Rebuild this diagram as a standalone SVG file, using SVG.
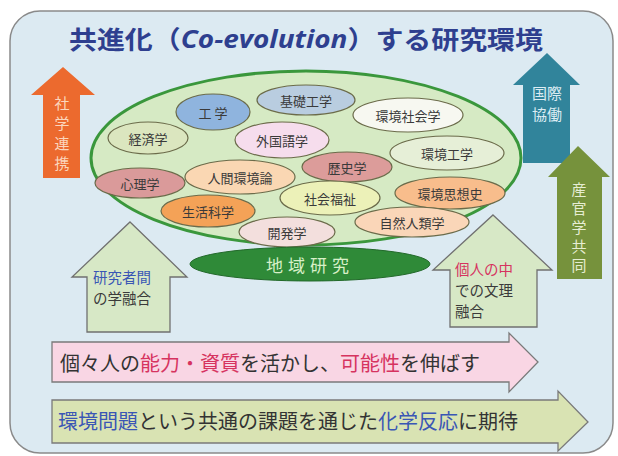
<svg xmlns="http://www.w3.org/2000/svg" width="618" height="456" viewBox="0 0 618 456">
<style>
text{font-family:"Noto Sans CJK JP","Noto Sans",sans-serif;}
.sub ellipse{stroke:#6b6b4a;stroke-width:1.2;}
.sub text{font-size:13px;fill:#3a3a3a;text-anchor:middle;dominant-baseline:central;}
.side{font-size:15px;text-anchor:middle;dominant-baseline:central;}
.up{fill:#d7e8c6;stroke:#707070;stroke-width:1.3;}
.lbl{font-size:14.5px;dominant-baseline:central;fill:#3a3a3a;}
.band{font-size:20px;dominant-baseline:central;fill:#333;}
.red{fill:#d6335f;}
.blue{fill:#3a56b5;}
</style>
<rect x="0" y="0" width="618" height="456" fill="#ffffff"/>
<rect x="10" y="11" width="603" height="442" rx="30" fill="#dceaf2" stroke="#8a8a8a" stroke-width="1.5"/>
<text x="306" y="38" text-anchor="middle" dominant-baseline="central" font-size="25" font-weight="bold" fill="#2e3f8f" textLength="474" lengthAdjust="spacingAndGlyphs">共進化（<tspan font-style="italic" font-family="'Open Sans','Noto Sans',sans-serif">Co-evolution</tspan>）する研究環境</text>

<g id="connectors">
<g id="arrow-shagaku">
<polygon points="63,67 95,95 80,95 80,178 43,178 43,95 31,95" fill="#ec6a2e"/>
<g class="side" fill="#fbd6bd">
<text x="62" y="102">社</text><text x="62" y="122">学</text><text x="62" y="142">連</text><text x="62" y="162">携</text>
</g>
</g>
<g id="arrow-kokusai">
<polygon points="547,53 580,85 570,85 570,163 523,163 523,85 513,85" fill="#31849b"/>
<g class="side" fill="#dcecf3">
<text x="547" y="92">国際</text><text x="547" y="113">協働</text>
</g>
</g>
<g id="arrow-sankan">
<polygon points="578,146 610,177 602,177 602,279 557,279 557,177 548,177" fill="#76923c"/>
<g class="side" fill="#e6edd3">
<text x="579" y="188">産</text><text x="579" y="207">官</text><text x="579" y="226">学</text><text x="579" y="245">共</text><text x="579" y="264">同</text>
</g>
</g>
<g id="arrow-kenkyusha">
<polygon class="up" points="130,222 187,277 170,277 170,332 87,332 87,277 72,277"/>
<text class="lbl" x="93" y="276"><tspan class="blue">研究者間</tspan></text>
<text class="lbl" x="93" y="297">の学融合</text>
</g>
<g id="arrow-kojin">
<polygon class="up" points="493,215 552,270 537,270 537,327 450,327 450,270 433,270"/>
<text class="lbl" x="455" y="268"><tspan class="red">個人の中</tspan></text>
<text class="lbl" x="455" y="289">での文理</text>
<text class="lbl" x="455" y="310">融合</text>
</g>
</g>

<g id="field">
<ellipse cx="306" cy="158" rx="215" ry="87" fill="#d6eac4" stroke="#3a973c" stroke-width="3"/>
</g>
<g class="sub">
<g id="n-kisokogaku"><ellipse cx="306" cy="100" rx="49" ry="15" fill="#b9cde0"/><text x="306" y="100">基礎工学</text></g>
<g id="n-kogaku"><ellipse cx="213" cy="112" rx="37" ry="18" fill="#8fb4de"/><text x="213" y="112">工 学</text></g>
<g id="n-kankyoshakai"><ellipse cx="408" cy="115" rx="55" ry="17" fill="#f7f8f1"/><text x="408" y="115">環境社会学</text></g>
<g id="n-keizai"><ellipse cx="148" cy="138" rx="40" ry="16" fill="#dbe6bf"/><text x="148" y="138">経済学</text></g>
<g id="n-gaikokugo"><ellipse cx="282" cy="140" rx="47" ry="18" fill="#f6dded"/><text x="282" y="140">外国語学</text></g>
<g id="n-kankyokogaku"><ellipse cx="447" cy="153" rx="57" ry="17" fill="#e6efd7"/><text x="447" y="153">環境工学</text></g>
<g id="n-rekishi"><ellipse cx="347" cy="167" rx="45" ry="15" fill="#dc9c9a"/><text x="347" y="167">歴史学</text></g>
<g id="n-shinri"><ellipse cx="140" cy="183" rx="45" ry="15" fill="#da9a9a"/><text x="140" y="183">心理学</text></g>
<g id="n-ningen"><ellipse cx="240" cy="177" rx="55" ry="17" fill="#fad7b3"/><text x="240" y="177">人間環境論</text></g>
<g id="n-shakaifukushi"><ellipse cx="330" cy="198" rx="50" ry="17" fill="#ecf1b8"/><text x="330" y="198">社会福祉</text></g>
<g id="n-shiso"><ellipse cx="450" cy="193" rx="55" ry="16" fill="#f8bd8c"/><text x="450" y="193">環境思想史</text></g>
<g id="n-seikatsu"><ellipse cx="208" cy="211" rx="47" ry="16" fill="#f4a257"/><text x="208" y="211">生活科学</text></g>
<g id="n-jinrui"><ellipse cx="412" cy="222" rx="57" ry="15" fill="#fad6b8"/><text x="412" y="222">自然人類学</text></g>
<g id="n-kaihatsu"><ellipse cx="287" cy="232" rx="48" ry="15" fill="#f3dfdd"/><text x="287" y="232">開発学</text></g>
</g>
<g id="n-chiiki">
<ellipse cx="310" cy="264" rx="120" ry="17" fill="#2f8a38" stroke="#22692a" stroke-width="1"/>
<text x="310" y="264" text-anchor="middle" dominant-baseline="central" font-size="17" fill="#d8f0c8" letter-spacing="5">地域研究</text>
</g>

<g id="band-pink">
<polygon points="52,342 509,342 509,333 538,362 509,392 509,382 52,382" fill="#f9d6e4" stroke="#7a7a7a" stroke-width="1.3"/>
<text class="band" x="60" y="362">個々人の<tspan class="red">能力・資質</tspan>を活かし、<tspan class="red">可能性</tspan>を伸ばす</text>
</g>
<g id="band-green">
<polygon points="52,400 558,400 558,391 588,422 558,451 558,443 52,443" fill="#d9e3b3" stroke="#7a7a7a" stroke-width="1.3"/>
<text class="band" x="58" y="420"><tspan class="blue">環境問題</tspan>という共通の課題を通じた<tspan class="blue">化学反応</tspan>に期待</text>
</g>
</svg>
